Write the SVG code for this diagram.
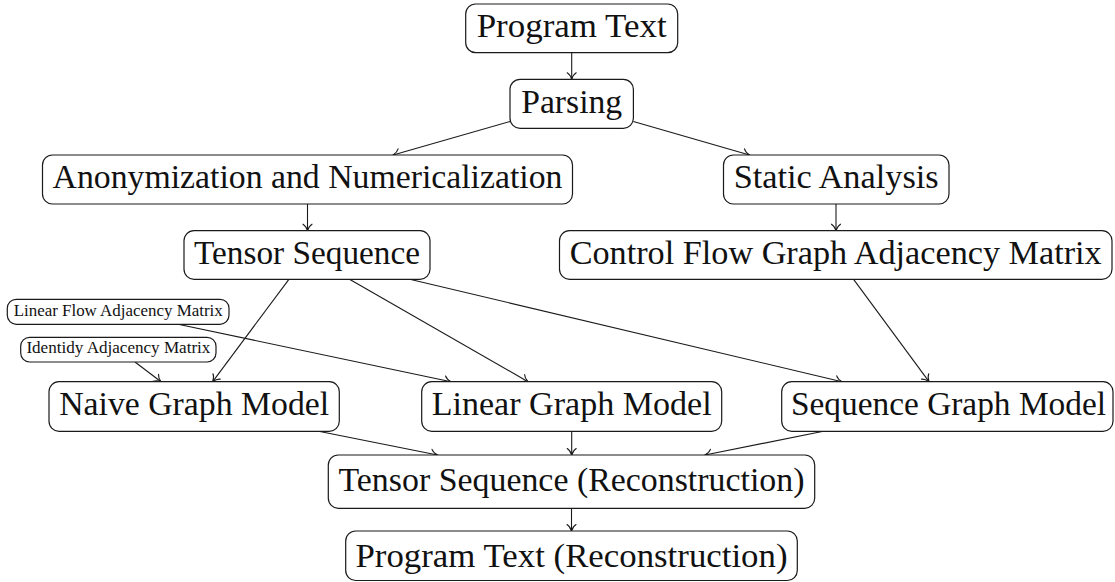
<svg xmlns="http://www.w3.org/2000/svg" width="1115" height="582" viewBox="0 0 1115 582">
<style>
.box{fill:#fff;stroke:#1a1a1a;stroke-width:1.2}
.t{font-family:"Liberation Serif","Times New Roman",serif;font-size:33.5px;fill:#111;text-anchor:middle}
.s{font-family:"Liberation Serif","Times New Roman",serif;font-size:16px;fill:#111;text-anchor:middle}
.c line{stroke:#1a1a1a;stroke-width:1.1;marker-end:url(#arr)}
</style>
<defs>
<marker id="arr" markerUnits="userSpaceOnUse" viewBox="-8 -6 10 12" markerWidth="10" markerHeight="12" refX="0" refY="0" orient="auto">
<path d="M-6.5,-4.5 C-5,-2 -2,-0.6 0,0 C-2,0.6 -5,2 -6.5,4.5" fill="none" stroke="#1a1a1a" stroke-width="1.1" stroke-linecap="round"/>
</marker>
</defs>
<rect width="1115" height="582" fill="#fff"/>
<g class="c" id="connectors">
<line x1="571.7" y1="52.7" x2="571.7" y2="79.3"/>
<line x1="510" y1="121.5" x2="393.1" y2="155"/>
<line x1="633.4" y1="121.5" x2="749.5" y2="155"/>
<line x1="307.5" y1="204" x2="307.5" y2="230.7"/>
<line x1="836" y1="204" x2="836" y2="230.7"/>
<line x1="288.9" y1="279.3" x2="212.7" y2="381.7"/>
<line x1="349.5" y1="279.3" x2="528" y2="381.7"/>
<line x1="409.7" y1="279.3" x2="842" y2="381.7"/>
<line x1="853.6" y1="279.3" x2="929" y2="381.7"/>
<line x1="178.1" y1="324.3" x2="451" y2="381.7"/>
<line x1="135" y1="362" x2="161" y2="381.7"/>
<line x1="318.6" y1="431.3" x2="437.5" y2="455"/>
<line x1="571.7" y1="431.3" x2="571.7" y2="455"/>
<line x1="823.4" y1="431.3" x2="704.9" y2="455"/>
<line x1="571.5" y1="508.3" x2="571.5" y2="531"/>
</g>
<g id="program-text"><rect class="box" x="465.7" y="4" width="212" height="48.7" rx="10"/><text class="t" x="571.7" y="37.3" textLength="190" lengthAdjust="spacingAndGlyphs">Program Text</text></g>
<g id="parsing"><rect class="box" x="510" y="79.3" width="123.4" height="49" rx="10"/><text class="t" x="571.7" y="112.5" textLength="101" lengthAdjust="spacingAndGlyphs">Parsing</text></g>
<g id="anon"><rect class="box" x="42.5" y="155" width="530" height="49" rx="10"/><text class="t" x="307.5" y="188.3" textLength="510" lengthAdjust="spacingAndGlyphs">Anonymization and Numericalization</text></g>
<g id="static"><rect class="box" x="723.5" y="155" width="225.5" height="49" rx="10"/><text class="t" x="836.2" y="188.3" textLength="205" lengthAdjust="spacingAndGlyphs">Static Analysis</text></g>
<g id="tensor-seq"><rect class="box" x="184" y="230.7" width="246" height="48.6" rx="10"/><text class="t" x="307" y="264" textLength="226" lengthAdjust="spacingAndGlyphs">Tensor Sequence</text></g>
<g id="cfg"><rect class="box" x="559.5" y="230.7" width="552.5" height="48.6" rx="10"/><text class="t" x="835.7" y="264" textLength="532" lengthAdjust="spacingAndGlyphs">Control Flow Graph Adjacency Matrix</text></g>
<g id="linear-flow"><rect class="box" x="7.3" y="299.3" width="221.7" height="25" rx="9"/><text class="s" x="118.2" y="316" textLength="209" lengthAdjust="spacingAndGlyphs">Linear Flow Adjacency Matrix</text></g>
<g id="identity"><rect class="box" x="20.7" y="337.3" width="195.3" height="24.7" rx="9"/><text class="s" x="118.4" y="353.3" textLength="184" lengthAdjust="spacingAndGlyphs">Identidy Adjacency Matrix</text></g>
<g id="naive"><rect class="box" x="49" y="381.7" width="290.3" height="49.6" rx="10"/><text class="t" x="194.2" y="415" textLength="270" lengthAdjust="spacingAndGlyphs">Naive Graph Model</text></g>
<g id="linear"><rect class="box" x="421.7" y="381.7" width="300" height="49.6" rx="10"/><text class="t" x="571.7" y="415" textLength="280" lengthAdjust="spacingAndGlyphs">Linear Graph Model</text></g>
<g id="sequence"><rect class="box" x="781.7" y="381.7" width="331.3" height="49.6" rx="10"/><text class="t" x="948.5" y="415" textLength="315" lengthAdjust="spacingAndGlyphs">Sequence Graph Model</text></g>
<g id="tsr"><rect class="box" x="328.3" y="455" width="486.4" height="53.3" rx="10"/><text class="t" x="571.5" y="490.7" textLength="466" lengthAdjust="spacingAndGlyphs">Tensor Sequence (Reconstruction)</text></g>
<g id="ptr"><rect class="box" x="345.7" y="531" width="451.6" height="49.5" rx="10"/><text class="t" x="571.5" y="566.7" textLength="432" lengthAdjust="spacingAndGlyphs">Program Text (Reconstruction)</text></g>
</svg>
